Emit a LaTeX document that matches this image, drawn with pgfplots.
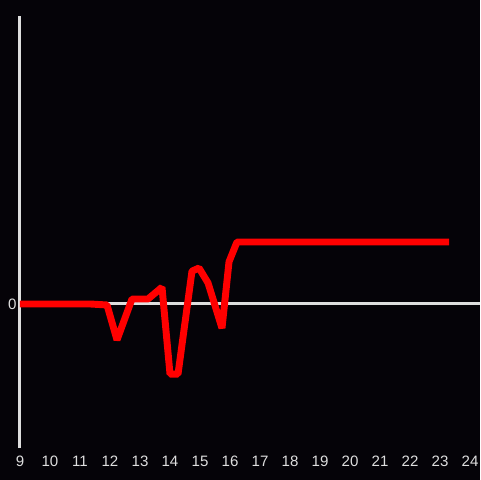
\documentclass[border=0pt]{standalone}
\usepackage{pgfplots}
\pgfplotsset{compat=1.18}
\usepackage{fontspec}
\setmainfont{Liberation Sans}
\definecolor{bgdark}{RGB}{5,3,8}
\definecolor{axgray}{RGB}{222,222,222}
\definecolor{lineRed}{RGB}{255,0,0}

\begin{document}
\begin{tikzpicture}
\fill[bgdark] (-15pt,-24pt) rectangle (345pt,336pt);
\begin{axis}[
    at={(0,0)}, anchor=south west,
    scale only axis, width=345pt, height=324pt,
    xmin=9, xmax=24.333, ymin=-2.323, ymax=4.645,
    axis line style={draw=none},
    xtick={9,10,...,24}, ytick={0},
    major tick length=0pt,
    tick label style={font=\fontsize{11.3}{13}\selectfont, text=axgray},
    /pgf/number format/assume math mode=true,
    xticklabel style={anchor=north, yshift=-2.5pt},
    yticklabel style={anchor=east, xshift=1pt},
    clip=false]
\draw[axgray, line width=2.25pt] (axis cs:9,0) -- (axis cs:24.333,0);
\draw[axgray, line width=2.25pt] (axis cs:9,-2.323) -- (axis cs:9,4.645);
\addplot[lineRed, line width=5.2pt, line join=bevel, mark=none] coordinates {
 (9,0) (11.333,0) (11.9,-0.016) (12.233,-0.58) (12.733,0.08) (13.267,0.08)
 (13.733,0.27) (14.0,-1.13) (14.267,-1.13) (14.733,0.53) (14.967,0.58)
 (15.267,0.34) (15.733,-0.39) (15.967,0.68) (16.233,1.0) (23.3,1.0)};
\end{axis}
\pgfresetboundingbox
\path (-15pt,-24pt) rectangle (345pt,336pt);
\end{tikzpicture}
\end{document}
